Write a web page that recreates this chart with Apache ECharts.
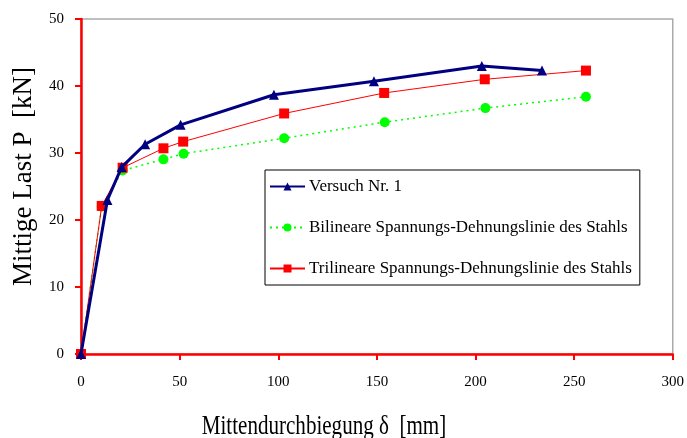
<!DOCTYPE html>
<html>
<head>
<meta charset="utf-8">
<script src="https://cdn.jsdelivr.net/npm/echarts@6/dist/echarts.min.js"></script>
<style>html,body{margin:0;padding:0;background:#fff}#c{width:687px;height:438px}</style>
</head>
<body>
<div id="c"></div>
<script>
const seriesNames = ['Versuch Nr. 1', 'Bilineare Spannungs-Dehnungslinie des Stahls', 'Trilineare Spannungs-Dehnungslinie des Stahls'];
const versuch = [[0,0],[13.4,23.0],[20.6,27.9],[32.5,31.3],[50.5,34.2],[97.8,38.7],[148.5,40.7],[203.2,43.0],[233.7,42.3]];
const bilinear = [[0,0],[10.5,22.0],[21.1,27.4],[41.8,29.05],[52,29.9],[103,32.2],[154,34.6],[205,36.7],[256,38.4]];
const trilinear = [[0,0],[10.5,22.1],[21.1,27.8],[41.8,30.7],[51.8,31.7],[103,35.9],[153.7,38.96],[204.7,41.0],[256,42.3]];
const xTicks = [0,50,100,150,200,250,300];
const yTicks = [0,10,20,30,40,50];
const xTitle = 'Mittendurchbiegung δ  [mm]';
const yTitle = 'Mittige Last P  [kN]';

const font = 'Liberation Serif';
const chart = echarts.init(document.getElementById('c'), null, {renderer:'canvas'});
chart.setOption({
  animation:false,
  backgroundColor:'#fff',
  grid:{left:81, right:8, top:19, bottom:84, show:true, borderColor:'#aaaaaa', borderWidth:1.5, backgroundColor:'transparent'},
  xAxis:{type:'value', min:xTicks[0], max:xTicks[xTicks.length-1], interval:50,
    axisLine:{show:true, onZero:false, lineStyle:{color:'#ff0000', width:2.5}},
    axisTick:{show:true, length:6, lineStyle:{color:'#ff0000', width:2}},
    axisLabel:{fontFamily:font, fontSize:15, color:'#000', margin:21},
    splitLine:{show:false}},
  yAxis:{type:'value', min:yTicks[0], max:yTicks[yTicks.length-1], interval:10,
    name:yTitle, nameLocation:'middle', nameGap:44,
    nameTextStyle:{fontFamily:font, fontSize:27, color:'#000', padding:[0,0,0,20]},
    axisLine:{show:true, onZero:false, lineStyle:{color:'#ff0000', width:2.5}},
    axisTick:{show:true, length:6, lineStyle:{color:'#ff0000', width:2}},
    axisLabel:{fontFamily:font, fontSize:15, color:'#000', margin:17},
    splitLine:{show:false}},
  legend:{orient:'vertical', left:265, top:170, itemGap:24, itemWidth:35, itemHeight:10,
    backgroundColor:'#fff', borderColor:'#000', borderWidth:1, padding:[8,8,8,4],
    textStyle:{fontFamily:font, fontSize:17, color:'#000', padding:[0,0,0,-1]},
    data:seriesNames},
  graphic:[
    {type:'text', x:324, y:427, scaleX:0.78, silent:true,
     style:{text:xTitle, font:'27px "Liberation Serif"', fill:'#000', align:'center', verticalAlign:'middle'}}
  ],
  series:[
    {name:seriesNames[1], type:'line', data:bilinear, symbol:'circle', symbolSize:10,
     itemStyle:{color:'#00ff00'}, lineStyle:{color:'#00ff00', width:1.5, type:[2,4]}, z:2},
    {name:seriesNames[2], type:'line', data:trilinear, symbol:'rect', symbolSize:10,
     itemStyle:{color:'#ff0000'}, lineStyle:{color:'#ff0000', width:1}, z:3},
    {name:seriesNames[0], type:'line', data:versuch, symbol:'triangle', symbolSize:10,
     itemStyle:{color:'#000080'}, lineStyle:{color:'#000080', width:3}, z:4}
  ]
});
</script>
</body>
</html>
